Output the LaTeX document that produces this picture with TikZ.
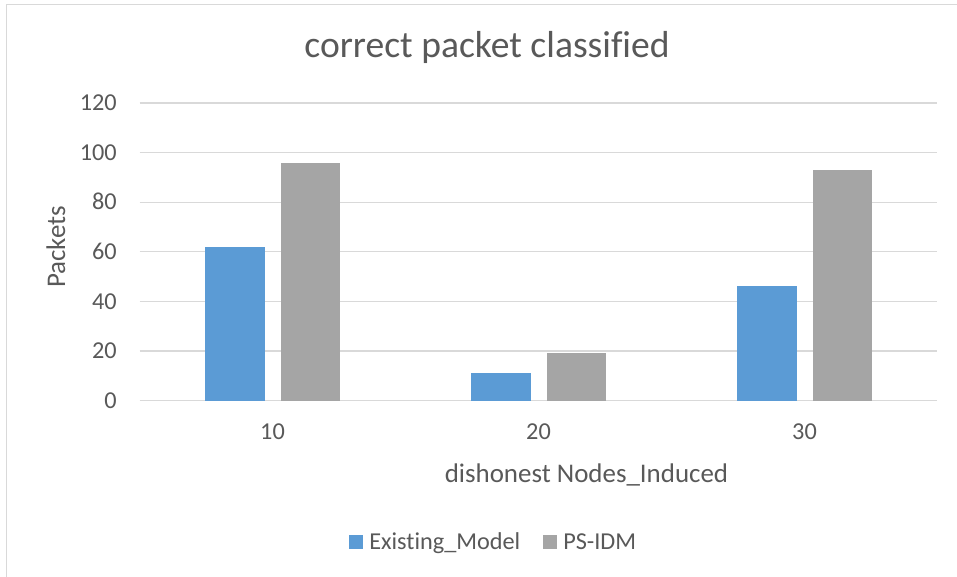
\documentclass[tikz,border=0pt]{standalone}
\usepackage{fontspec}
\setmainfont[Ligatures=NoCommon]{Carlito}
\definecolor{txt}{HTML}{595959}
\definecolor{grid}{HTML}{D9D9D9}
\definecolor{serA}{HTML}{5B9BD5}
\definecolor{serB}{HTML}{A5A5A5}
\begin{document}
\begin{tikzpicture}[x=0.75pt,y=-0.75pt,
  gridline/.style={draw=grid,line width=0.9pt},
  frameline/.style={draw=grid,line width=1.1pt},
  barA/.style={fill=serA,draw=none},
  barB/.style={fill=serB,draw=none},
  ticklab/.style={text=txt,font=\fontsize{18.2}{20}\selectfont,inner sep=0pt},
  axtitle/.style={text=txt,font=\fontsize{20.2}{22}\selectfont,inner sep=0pt},
  charttitle/.style={text=txt,font=\fontsize{28.2}{30}\selectfont,inner sep=0pt},
  legkey/.style={minimum size=10.2pt,inner sep=0pt,draw=none}]
\useasboundingbox (0,0) rectangle (957,577);
\fill[white] (0,0) rectangle (957,577);
% chart frame
\draw[frameline] (6.5,577) -- (6.5,4.5) -- (957,4.5);
% title
\node[charttitle,anchor=base] (title) at (487,57.3) {correct packet classified};
% horizontal gridlines and y tick labels (20 units = 49.58 px, zero at 400.5)
\foreach \v/\nm in {0/y0,20/y20,40/y40,60/y60,80/y80,100/y100,120/y120}{
  \pgfmathsetmacro{\py}{400.5-\v*2.479}
  \draw[gridline] (139.5,\py) -- (937,\py);
  \node[ticklab,anchor=base east] (\nm) at (117,\py+7.7) {\v};
}
% bars
\foreach \cx/\a/\b/\nm in {272.5/62/96/g1,538.5/11/19/g2,804.5/46/93/g3}{
  \fill[barA] (\cx-67.5,400.5) rectangle (\cx-8,400.5-\a*2.479);
  \fill[barB] (\cx+8,400.5) rectangle (\cx+67.5,400.5-\b*2.479);
}
% x tick labels
\node[ticklab,anchor=base] (x10) at (272.5,439.3) {10};
\node[ticklab,anchor=base] (x20) at (538.5,439.3) {20};
\node[ticklab,anchor=base] (x30) at (804.5,439.3) {30};
% axis titles
\node[axtitle,anchor=base] (xtitle) at (586.5,482.7) {dishonest Nodes\_Induced};
\node[axtitle,anchor=base,rotate=90] (ytitle) at (65,247) {Packets};
% legend
\node[legkey,fill=serA] (kA) at (355.8,541.9) {};
\node[ticklab,anchor=base west] (lA) at (369,549) {Existing\_Model};
\node[legkey,fill=serB] (kB) at (549.7,541.9) {};
\node[ticklab,anchor=base west] (lB) at (563,549) {PS-IDM};
\end{tikzpicture}
\end{document}
